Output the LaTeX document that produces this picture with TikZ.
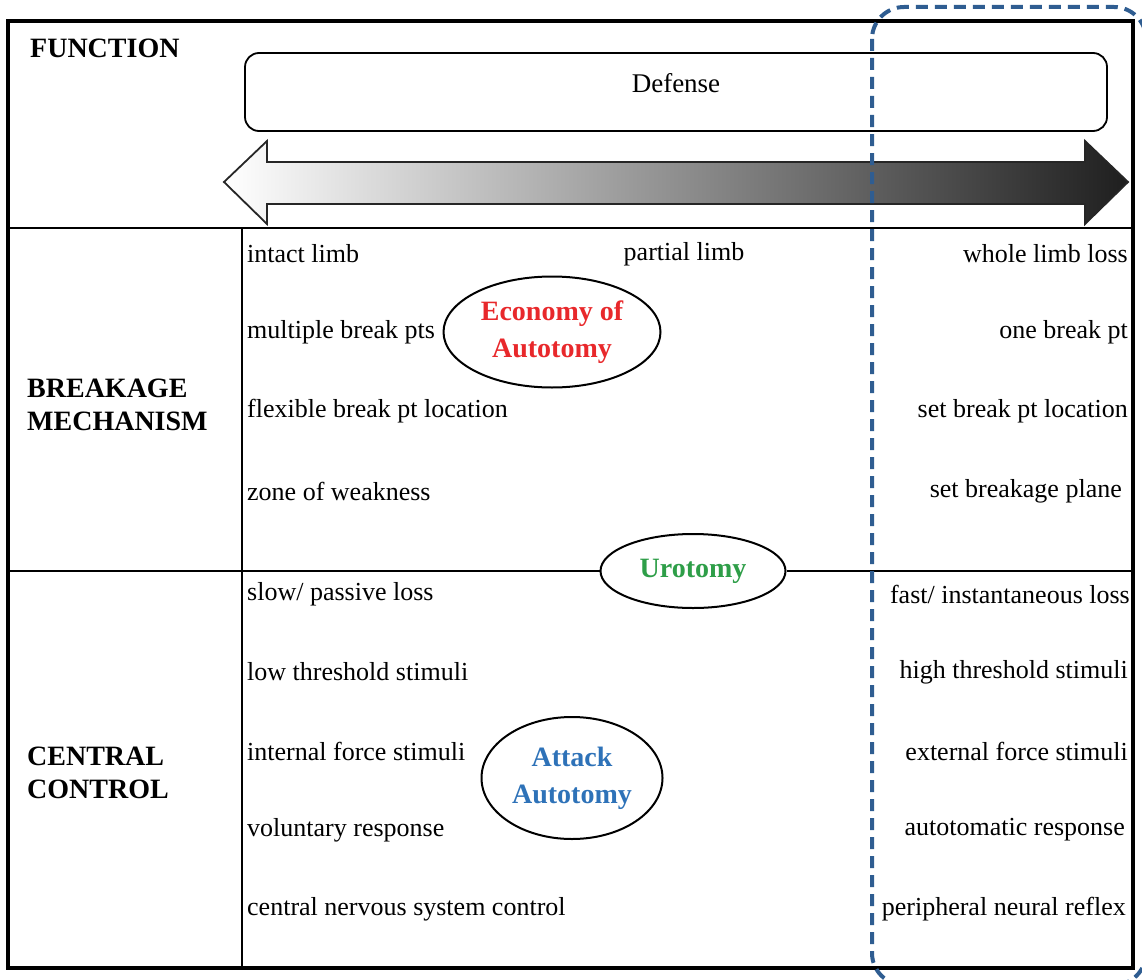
\documentclass[tikz,border=0pt]{standalone}
\usepackage{fontspec}
\setmainfont{Liberation Serif}
\usetikzlibrary{shapes.geometric,positioning}

\definecolor{ecored}{HTML}{E8282B}
\definecolor{urogreen}{HTML}{2E9E48}
\definecolor{attblue}{HTML}{2E72B8}
\definecolor{dashblue}{HTML}{2F5D91}

\begin{document}
\begin{tikzpicture}[x=1pt, y=-1pt,
    txt/.style={font=\fontsize{26}{30}\selectfont, inner sep=0pt},
    lft/.style={txt, anchor=west},
    rgt/.style={txt, anchor=east},
    hdr/.style={font=\fontsize{28}{33}\selectfont\bfseries, align=left, anchor=west, inner sep=0pt},
    oval/.style={ellipse, draw, line width=2pt, inner sep=0pt, align=center,
                 font=\fontsize{28}{37}\selectfont\bfseries},
    rule/.style={line width=2pt}
]
    \useasboundingbox (0,0) rectangle (1142,979);

    % Frame
    \draw[line width=3.2pt] (8,21) rectangle (1133,968);
    \coordinate (r1w) at (8,228);    \coordinate (r1e) at (1133,228);
    \coordinate (r2w) at (8,571);    \coordinate (r2e) at (1133,571);
    \coordinate (colt) at (242,228); \coordinate (colb) at (242,968);
    \draw[rule] (r1w) -- (r1e);
    \draw[rule] (colt) -- (colb);

    % Row headers
    \node[hdr] (fname) at (30,48) {FUNCTION};
    \node[hdr] (bname) at (27,405) {BREAKAGE\\MECHANISM};
    \node[hdr] (cname) at (27,773) {CENTRAL\\CONTROL};

    % Function
    \node[draw, line width=1.8pt, rounded corners=14pt, minimum width=862pt, minimum height=78pt]
        (defense) at (676,92) {};
    \node[txt, font=\fontsize{27}{30}\selectfont] (deflabel) at (676,83) {Defense};
    \path[draw=black!85, line width=1.8pt, left color=white, right color=black!88]
        (224,182) -- (267,141) -- (267,162) -- (1085,162) -- (1085,141) -- (1128,182)
        -- (1085,224) -- (1085,204) -- (267,204) -- (267,224) -- cycle;

    % Breakage mechanism
    \node[lft] (b1l) at (247,254) {intact limb};
    \node[txt] (b1m) at (684,254) {partial limb};
    \node[rgt] (b1r) at (1128,254) {whole limb loss};
    \node[lft] (b2l) at (247,332) {multiple break pts};
    \node[rgt] (b2r) at (1128,332) {one break pt};
    \node[lft] (b3l) at (247,411) {flexible break pt location};
    \node[rgt] (b3r) at (1128,411) {set break pt location};
    \node[lft] (b4l) at (247,491) {zone of weakness};
    \node[rgt] (b4r) at (1122,491) {set breakage plane};

    \node[oval, minimum width=217pt, minimum height=111pt, text=ecored] (economy) at (552,332)
        {Economy of\\Autotomy};

    % Urotomy
    \node[oval, minimum width=185pt, minimum height=74pt, text=urogreen] (urotomy) at (693,571)
        {Urotomy};
    \draw[rule] (r2w) -- (urotomy.west);
    \draw[rule] (urotomy.east) -- (r2e);

    % Central control
    \node[lft] (c1l) at (247,594) {slow/ passive loss};
    \node[rgt] (c1r) at (1130,594) {fast/ instantaneous loss};
    \node[lft] (c2l) at (247,672) {low threshold stimuli};
    \node[rgt] (c2r) at (1128,672) {high threshold stimuli};
    \node[lft] (c3l) at (247,751) {internal force stimuli};
    \node[rgt] (c3r) at (1128,751) {external force stimuli};
    \node[lft] (c4l) at (247,830) {voluntary response};
    \node[rgt] (c4r) at (1125,830) {autotomatic response};
    \node[lft] (c5l) at (247,909) {central nervous system control};
    \node[rgt] (c5r) at (1126,909) {peripheral neural reflex};

    \node[oval, minimum width=181pt, minimum height=122pt, text=attblue] (attack) at (572,778)
        {Attack\\Autotomy};

    % Highlight
    \draw[dashblue, line width=4pt, dash pattern=on 12pt off 7pt, rounded corners=32pt]
        (872,7) rectangle (1146,985);
\end{tikzpicture}
\end{document}
